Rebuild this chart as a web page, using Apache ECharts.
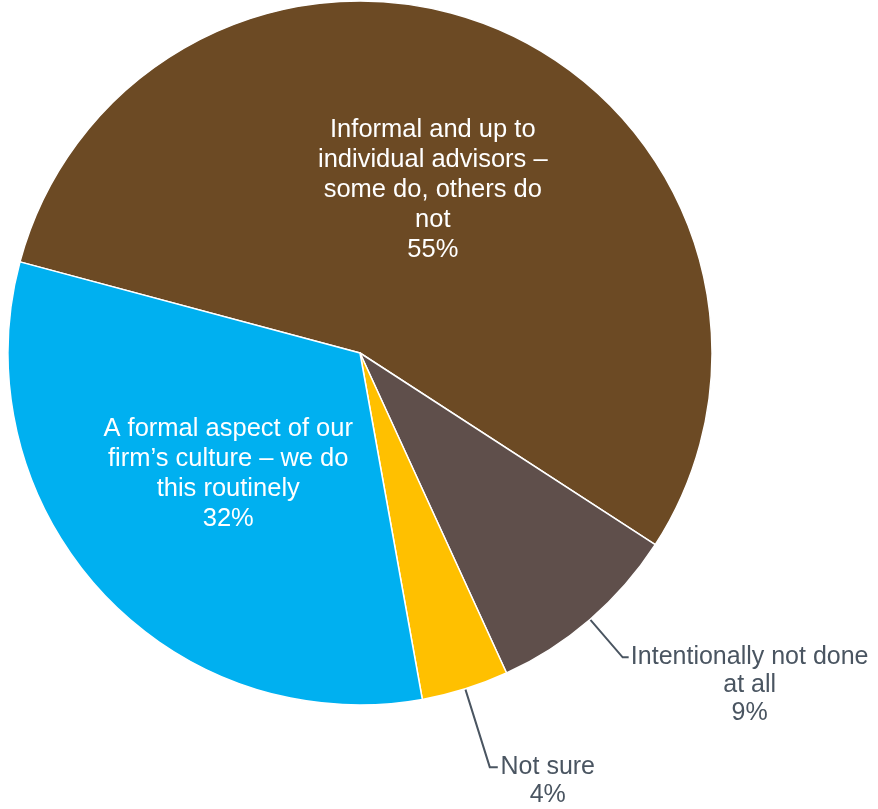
<!DOCTYPE html>
<html>
<head>
<meta charset="utf-8">
<script src="https://cdn.jsdelivr.net/npm/echarts@6/dist/echarts.min.js"></script>
<style>
html,body{margin:0;padding:0;background:#fff;}
#chart{width:878px;height:809px;}
</style>
</head>
<body>
<div id="chart"></div>
<script>
var categories = [
  'Informal and up to\nindividual advisors –\nsome do, others do\nnot',
  'Intentionally not done\nat all',
  'Not sure',
  'A formal aspect of our\nfirm’s culture – we do\nthis routinely'
];
var values = [55, 9, 4, 32];
var palette = ['#6C4A24', '#5F4F4B', '#FFC000', '#00B0F0'];

var textGray = '#4A5561';
var font = '"Liberation Sans", Arial, sans-serif';

function insideLabel() {
  return {
    show: true, position: 'inside', color: '#fff', fontSize: 25.5, lineHeight: 30,
    fontFamily: font, align: 'center',
    formatter: function (p) { return p.name + '\n' + p.value + '%'; }
  };
}
function outsideLabel(w, pad, len, len2) {
  return {
    label: {
      show: true, position: 'outside', padding: [pad, 0, 0, 0], distanceToLabelLine: 2,
      formatter: function (p) {
        return (p.name + '\n' + p.value + '%').split('\n').map(function (s) { return '{c|' + s + '}'; }).join('\n');
      },
      rich: { c: { width: w, align: 'center', fontSize: 25, lineHeight: 28, color: textGray, fontFamily: font } }
    },
    labelLine: { show: true, length: len, length2: len2, lineStyle: { color: textGray, width: 2 } }
  };
}

var labelCfg = [
  { label: insideLabel(), labelLine: { show: false } },
  outsideLabel(238, 56, 50, 6),
  outsideLabel(96, 28, 82, 8),
  { label: insideLabel(), labelLine: { show: false } }
];

var data = categories.map(function (c, i) {
  return Object.assign({
    name: c, value: values[i],
    itemStyle: { color: palette[i] }
  }, labelCfg[i]);
});

var chart = echarts.init(document.getElementById('chart'), null, { renderer: 'canvas' });
chart.setOption({
  animation: false,
  series: [{
    type: 'pie',
    center: [360, 353],
    radius: [0, 352],
    startAngle: 165,
    clockwise: true,
    avoidLabelOverlap: false,
    itemStyle: { borderColor: '#fff', borderWidth: 1.5 },
    data: data
  }]
});
</script>
</body>
</html>
